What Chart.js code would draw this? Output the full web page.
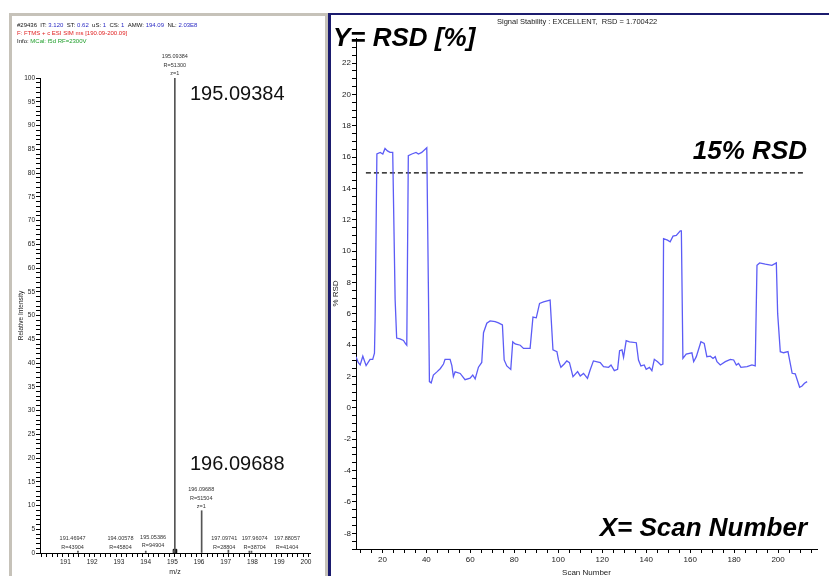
<!DOCTYPE html>
<html>
<head>
<meta charset="utf-8">
<script src="https://cdn.jsdelivr.net/npm/chart.js@4.4.1/dist/chart.umd.min.js"></script>
<style>
  html, body { margin: 0; padding: 0; background: #fff; }
  body { width: 829px; height: 576px; overflow: hidden; position: relative;
         font-family: "Liberation Sans", Arial, sans-serif; }
  .panel { position: absolute; background: #fff; }
  #specPanel { left: 9px; top: 13px; width: 313px; height: 600px; border: 3px solid #c6c2b9; }
  #rsdPanel { left: 328px; top: 13px; width: 520px; height: 600px;
              border-left: 3px solid #1b1b6e; border-top: 2px solid #1b1b6e; }
  canvas { position: absolute; }
  #specChart { left: 12px; top: 16px; }
  #rsdChart { left: 331px; top: 15px; }
  .txt { position: absolute; white-space: nowrap; transform: translateY(-50%); line-height: 1; }
  .hdr { font-size: 6px; color: #111; left: 17px; }
  .blue { color: #2b2bc4; }
  .red { color: #e01e1e; }
  .green { color: #1e9e2a; }
  .big { font-size: 20px; color: #111; }
  .note { font-size: 26px; font-weight: bold; font-style: italic; color: #000; }
</style>
</head>
<body>
<div class="panel" id="specPanel"></div>
<div class="panel" id="rsdPanel"></div>
<canvas id="specChart" width="311" height="565"></canvas>
<canvas id="rsdChart" width="498" height="566"></canvas>

<div class="txt hdr" style="top:25px">#29436 &nbsp;IT: <span class="blue">3.120</span> &nbsp;ST: <span class="blue">0.62</span> &nbsp;uS: <span class="blue">1</span> &nbsp;CS: <span class="blue">1</span> &nbsp;AMW: <span class="blue">194.09</span> &nbsp;NL: <span class="blue">2.03E8</span></div>
<div class="txt hdr red" style="top:33px">F: FTMS + c ESI SIM ms [190.09-200.09]</div>
<div class="txt hdr" style="top:41px">Info: <span class="green">MCal: f5d RF=2300V</span></div>
<div class="txt big" style="left:190px; top:93px">195.09384</div>
<div class="txt big" style="left:190px; top:463px">196.09688</div>

<div class="txt" style="left:497px; top:22px; font-size:7.5px; color:#222">Signal Stability : EXCELLENT, &nbsp;RSD = 1.700422</div>
<div class="txt note" style="left:333px; top:37px">Y= RSD [%]</div>
<div class="txt note" style="right:22px; top:150px">15% RSD</div>
<div class="txt note" style="right:22px; top:527px">X= Scan Number</div>

<script>
// spectre de masse (SIM 190.09-200.09)
const peakMz = [191.46947, 194.00578, 195.05386, 195.09384, 196.09688, 197.09741, 197.96074, 197.88057];
const peakIntensity = [0.4, 0.4, 0.5, 100, 8.9, 0.6, 0.4, 0.4];
const peakResolution = ["R=43904", "R=45804", "R=94904", "R=51300", "R=51504", "R=28804", "R=38704", "R=41404"];
const peakCharge = ["", "", "", "z=1", "z=1", "", "", ""];
// où les étiquettes sont posées (m/z, intensité)
const labelMz = [191.27, 193.06, 194.28, 195.09384, 196.08, 196.94, 198.08, 199.29];
const labelLevel = [3.0, 3.0, 3.3, 104.5, 13.3, 3.0, 3.0, 3.0];
const monoMarker = [{ x: 195.1, y: 0.4 }];
const mzTickLabels = [191, 192, 193, 194, 195, 196, 197, 198, 199, 200];
const intensityTickLabels = [0, 5, 10, 15, 20, 25, 30, 35, 40, 45, 50, 55, 60, 65, 70, 75, 80, 85, 90, 95, 100];

// stabilité du signal
const scanNumber = [8.0, 9.0, 9.9, 11.1, 12.6, 14.4, 15.6, 16.4, 16.7, 17.5, 19.0, 20.2, 21.2, 22.3, 23.5, 24.7,
  25.8, 26.5, 28.0, 29.6, 30.5, 31.1, 31.8, 33.4, 35.3, 36.4, 37.9, 40.2, 40.9, 41.4, 42.2, 43.2, 44.8,
  46.3, 47.8, 48.5, 50.8, 51.6, 52.3, 53.1, 55.4, 57.6, 59.9, 61.1, 62.2, 63.7, 65.2, 66.0, 67.5, 69.0,
  71.3, 72.8, 74.6, 75.4, 76.6, 78.4, 79.3, 80.4, 82.7, 84.2, 87.2, 88.5, 90.0, 91.5, 93.3, 96.3, 97.6,
  99.4, 100.1, 101.2, 102.7, 103.9, 105.1, 106.7, 108.8, 110.0, 111.5, 113.3, 114.5, 116.0, 119.1, 120.6,
  122.9, 124.0, 125.5, 127.0, 127.9, 129.0, 129.7, 130.9, 132.4, 135.5, 136.5, 137.6, 139.1, 140.0, 141.5,
  142.6, 143.7, 145.2, 146.7, 147.6, 147.9, 149.7, 150.9, 152.2, 153.7, 155.5, 156.0, 156.7, 158.2, 160.8,
  161.6, 162.8, 164.9, 166.4, 167.6, 169.2, 170.4, 171.4, 172.2, 173.7, 176.0, 178.3, 179.8, 181.0, 182.0,
  183.1, 185.9, 188.1, 189.6, 190.4, 191.6, 194.2, 197.2, 199.2, 199.8, 201.0, 202.5, 204.5, 206.4, 207.8,
  209.8, 210.9, 212.0, 213.2];
const rsdValues = [3.27, 2.9, 2.74, 3.3, 2.7, 3.1, 3.1, 3.5, 5.7, 16.2, 16.3, 16.2, 16.55, 16.4, 16.3, 16.3,
  6.9, 4.46, 4.4, 4.3, 4.1, 4.0, 16.1, 16.2, 16.3, 16.2, 16.3, 16.6, 8.0, 1.68, 1.6, 2.1, 2.3,
  2.5, 2.8, 3.1, 3.1, 2.7, 2.0, 2.3, 2.2, 1.8, 1.9, 2.1, 1.85, 2.6, 2.9, 4.8, 5.4, 5.55,
  5.5, 5.43, 5.29, 3.06, 2.68, 2.46, 4.22, 4.08, 4.0, 3.8, 3.8, 5.8, 5.75, 6.67, 6.77, 6.88, 3.7,
  3.59, 3.06, 2.59, 2.8, 3.0, 2.89, 2.0, 2.32, 2.04, 2.2, 1.89, 2.42, 3.0, 2.89, 2.63,
  2.59, 2.74, 2.38, 2.46, 3.65, 3.7, 3.23, 4.29, 4.22, 4.16, 3.06, 2.68, 2.74, 2.46, 2.59,
  2.38, 3.1, 2.95, 2.74, 2.8, 10.8, 10.7, 10.6, 10.96, 11.0, 11.3, 11.3, 3.16, 3.44, 3.52,
  2.95, 3.27, 4.22, 4.12, 3.27, 3.3, 3.16, 3.27, 2.95, 2.74, 2.95, 3.1, 3.06, 2.74, 2.84,
  2.59, 2.63, 2.74, 2.68, 9.1, 9.25, 9.17, 9.1, 9.25, 6.03, 3.59, 3.52, 3.59, 2.21, 2.17,
  1.32, 1.4, 1.57, 1.68];
const rsdLimit = 15;
const limitScans = [12.5, 211.5];
const scanTickLabels = [20, 40, 60, 80, 100, 120, 140, 160, 180, 200];
const rsdTickLabels = [-8, -6, -4, -2, 0, 2, 4, 6, 8, 10, 12, 14, 16, 18, 20, 22];

Chart.defaults.font.family = '"Liberation Sans", Arial, sans-serif';
Chart.defaults.color = '#222';

// étiquettes des pics (m/z, résolution, charge)
const peakLabelPlugin = {
    id: 'peakLabels',
    afterDatasetsDraw(chart) {
        const { ctx, scales: { x, y } } = chart;
        ctx.save();
        ctx.font = '5.5px "Liberation Sans", Arial, sans-serif';
        ctx.fillStyle = '#333';
        ctx.textAlign = 'center';
        ctx.textBaseline = 'middle';
        labelMz.forEach((m, i) => {
            const px = x.getPixelForValue(m);
            const py = y.getPixelForValue(labelLevel[i]);
            const lines = [peakMz[i].toFixed(5), peakResolution[i]];
            if (peakCharge[i]) lines.push(peakCharge[i]);
            lines.forEach((t, k) => ctx.fillText(t, px, py + k * 8.5));
        });
        ctx.restore();
    }
};

function axisGrid() {
    return { display: true, drawOnChartArea: false, drawTicks: true, tickLength: 4, color: '#000', tickWidth: 1 };
}

new Chart(document.getElementById('specChart'), {
    type: 'bar',
    data: {
        datasets: [
            {
                data: peakMz.map((m, i) => ({ x: m, y: peakIntensity[i] })),
                backgroundColor: '#555',
                barThickness: 1,
                grouped: false
            },
            {
                type: 'line',
                data: monoMarker,
                showLine: false,
                pointStyle: 'rect',
                pointRadius: 2.5,
                backgroundColor: '#000',
                borderColor: '#000'
            }
        ]
    },
    options: {
        responsive: false,
        animation: false,
        devicePixelRatio: 1,
        layout: { padding: { left: 0, top: 62, right: 13, bottom: 0 } },
        plugins: { legend: { display: false }, tooltip: { enabled: false } },
        scales: {
            x: {
                type: 'linear',
                min: 190.05,
                max: 200.15,
                offset: false,
                afterFit(s) { s.height = 28; },
                border: { display: true, color: '#000' },
                grid: axisGrid(),
                ticks: {
                    stepSize: 0.2, includeBounds: false, autoSkip: false, maxRotation: 0,
                    padding: 1, font: { size: 6.5 },
                    callback: v => mzTickLabels.includes(Math.round(v * 100) / 100) ? String(Math.round(v)) : ''
                },
                title: { display: true, text: 'm/z', font: { size: 7 }, padding: { top: 0, bottom: 4.8 } }
            },
            y: {
                min: 0,
                max: 100,
                afterFit(s) { s.width = 28; },
                border: { display: true, color: '#000' },
                grid: axisGrid(),
                ticks: {
                    stepSize: 1, autoSkip: false, padding: 1, font: { size: 6.5 },
                    callback: v => intensityTickLabels.includes(v) ? String(v) : ''
                },
                title: { display: true, text: 'Relative Intensity', font: { size: 6.5 }, padding: { top: 5, bottom: 0 } }
            }
        }
    },
    plugins: [peakLabelPlugin]
});

new Chart(document.getElementById('rsdChart'), {
    type: 'line',
    data: {
        datasets: [
            {
                data: scanNumber.map((s, i) => ({ x: s, y: rsdValues[i] })),
                borderColor: '#5c5cf6',
                borderWidth: 1.3,
                pointRadius: 0,
                tension: 0
            },
            {
                data: limitScans.map(s => ({ x: s, y: rsdLimit })),
                borderColor: '#000',
                borderWidth: 1.2,
                borderDash: [5, 3],
                pointRadius: 0
            }
        ]
    },
    options: {
        responsive: false,
        animation: false,
        devicePixelRatio: 1,
        layout: { padding: { left: 0, top: 23, right: 12, bottom: 0 } },
        plugins: { legend: { display: false }, tooltip: { enabled: false } },
        scales: {
            x: {
                type: 'linear',
                min: 8,
                max: 217.7,
                afterFit(s) { s.height = 32; },
                border: { display: true, color: '#000' },
                grid: axisGrid(),
                ticks: {
                    stepSize: 5, includeBounds: false, autoSkip: false, maxRotation: 0,
                    padding: 2, font: { size: 8 },
                    callback: v => scanTickLabels.includes(v) ? String(v) : ''
                },
                title: { display: true, text: 'Scan Number', font: { size: 8 }, padding: { top: 0, bottom: 3 } }
            },
            y: {
                min: -9,
                max: 23.6,
                afterFit(s) { s.width = 25; },
                border: { display: true, color: '#000' },
                grid: axisGrid(),
                ticks: {
                    stepSize: 0.5, includeBounds: false, autoSkip: false, padding: 1, font: { size: 8 },
                    callback: v => rsdTickLabels.includes(v) ? String(v) : ''
                },
                title: { display: true, text: '% RSD', font: { size: 8 }, padding: { top: 0, bottom: 0 } }
            }
        }
    }
});
</script>
</body>
</html>
